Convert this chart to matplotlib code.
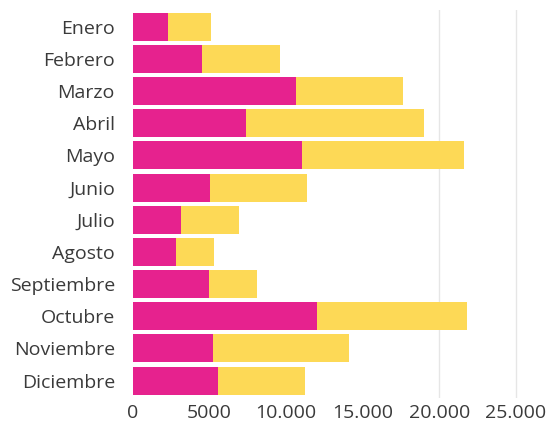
import matplotlib
matplotlib.use("Agg")
import matplotlib.pyplot as plt

months = ["Enero", "Febrero", "Marzo", "Abril", "Mayo", "Junio", "Julio",
          "Agosto", "Septiembre", "Octubre", "Noviembre", "Diciembre"]
serie_a = [2300, 4530, 10650, 7400, 11000, 5030, 3150, 2830, 4960, 12020, 5230, 5530]
totales = [5070, 9600, 17600, 19000, 21600, 11340, 6930, 5260, 8070, 21800, 14100, 11250]
serie_b = [t - a for t, a in zip(totales, serie_a)]
xticks = [0, 5000, 10000, 15000, 20000, 25000]
xticklabels = ["0", "5000", "10.000", "15.000", "20.000", "25.000"]

plt.rcParams['font.family'] = ['Open Sans', 'DejaVu Sans']

W, H = 549, 425
fig = plt.figure(figsize=(W / 100, H / 100), dpi=100)
xmax = 25300
left_px, top_px, bottom_px = 133, 10, 398
right_px = left_px + xmax * (383 / 25000)
ax = fig.add_axes([left_px / W, 1 - bottom_px / H,
                   (right_px - left_px) / W, (bottom_px - top_px) / H])

y = list(range(len(months)))
ax.barh(y, serie_a, height=0.87, color="#E6228E", zorder=2)
ax.barh(y, serie_b, left=serie_a, height=0.87, color="#FDD956", zorder=2)

for gx in [20000, 25000]:
    ax.axvline(gx, color="#E6E6E6", lw=1, zorder=1)

ax.set_xlim(0, xmax)
ax.set_ylim(11.54, -0.52)
ax.set_yticks(y)
ax.set_yticklabels(months, fontsize=14, color="#3a3a3a")
ax.set_xticks(xticks)
ax.set_xticklabels(xticklabels, fontsize=14, color="#3a3a3a")
ax.tick_params(axis="y", length=0, pad=13)
ax.tick_params(axis="x", length=0, pad=4)
for s in ax.spines.values():
    s.set_visible(False)

fig.savefig("out.png", dpi=100)
